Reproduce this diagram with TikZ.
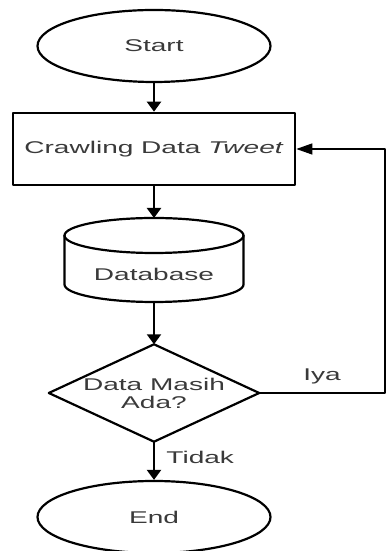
\documentclass[tikz,border=0pt]{standalone}
\usepackage{fontspec}
\newfontfamily\flowfont[FakeStretch=1.65]{Liberation Sans}
\usetikzlibrary{arrows.meta,shapes.geometric,positioning,calc}
\definecolor{txtgray}{HTML}{3A3A3A}

\begin{document}
\begin{tikzpicture}[line cap=round,line join=round,>={Triangle[width=14pt,length=10pt]},x=1pt,y=1pt,
    every node/.style={font=\flowfont\fontsize{17}{18}\selectfont,text=txtgray},
    terminal/.style={ellipse,draw=black,line width=2.2pt,minimum width=233pt,minimum height=72pt,inner sep=0pt},
    process/.style={rectangle,draw=black,line width=2.6pt,minimum width=282pt,minimum height=72pt,inner sep=0pt},
    decision/.style={rectangle,minimum width=210pt,minimum height=97pt,inner sep=0pt,align=center},
    flow/.style={->,line width=2.2pt},
    loopline/.style={-{Triangle[width=11pt,length=16pt]},line width=1.3pt}]
                \useasboundingbox (0,0) rectangle (387,551);
                % shapes
                \node[terminal] (start) at (154,505) {Start};
                \node[process] (crawl) at (154,402) {Crawling Data \textit{Tweet}};
                \coordinate (dbtop) at (154,333);
                \coordinate (dbbot) at (154,249);
                \draw [line width=2.2pt] (154,315.5) ellipse [x radius=89.5,y radius=17.5];
                \draw [line width=2.2pt] (64.5,315.5) -- (64.5,266.5) arc [start angle=180,end angle=360,x radius=89.5,y radius=17.5] -- (243.5,315.5);
                \node (db) at (154,277) {Database};
                \node[decision] (dec) at (154,158) {Data Masih\\Ada?};
                \draw [line width=2.2pt] (dec.north) -- (dec.east) -- (dec.south) -- (dec.west) -- cycle;
                \node[terminal] (stop) at (154,34) {End};
                % connectors
                \draw[flow] (start.south) -- (crawl.north);
                \draw[flow] (crawl.south) -- (dbtop);
                \draw[flow] (dbbot) -- (dec.north);
                \draw[flow] (dec.south) -- node[right=8pt,pos=0.4] {Tidak} (stop.north);
                \coordinate (back) at (385,158);
                \draw[loopline] (dec.east) -- node[above=5pt] {Iya} (back) |- (crawl.east);
\end{tikzpicture}
\end{document}
